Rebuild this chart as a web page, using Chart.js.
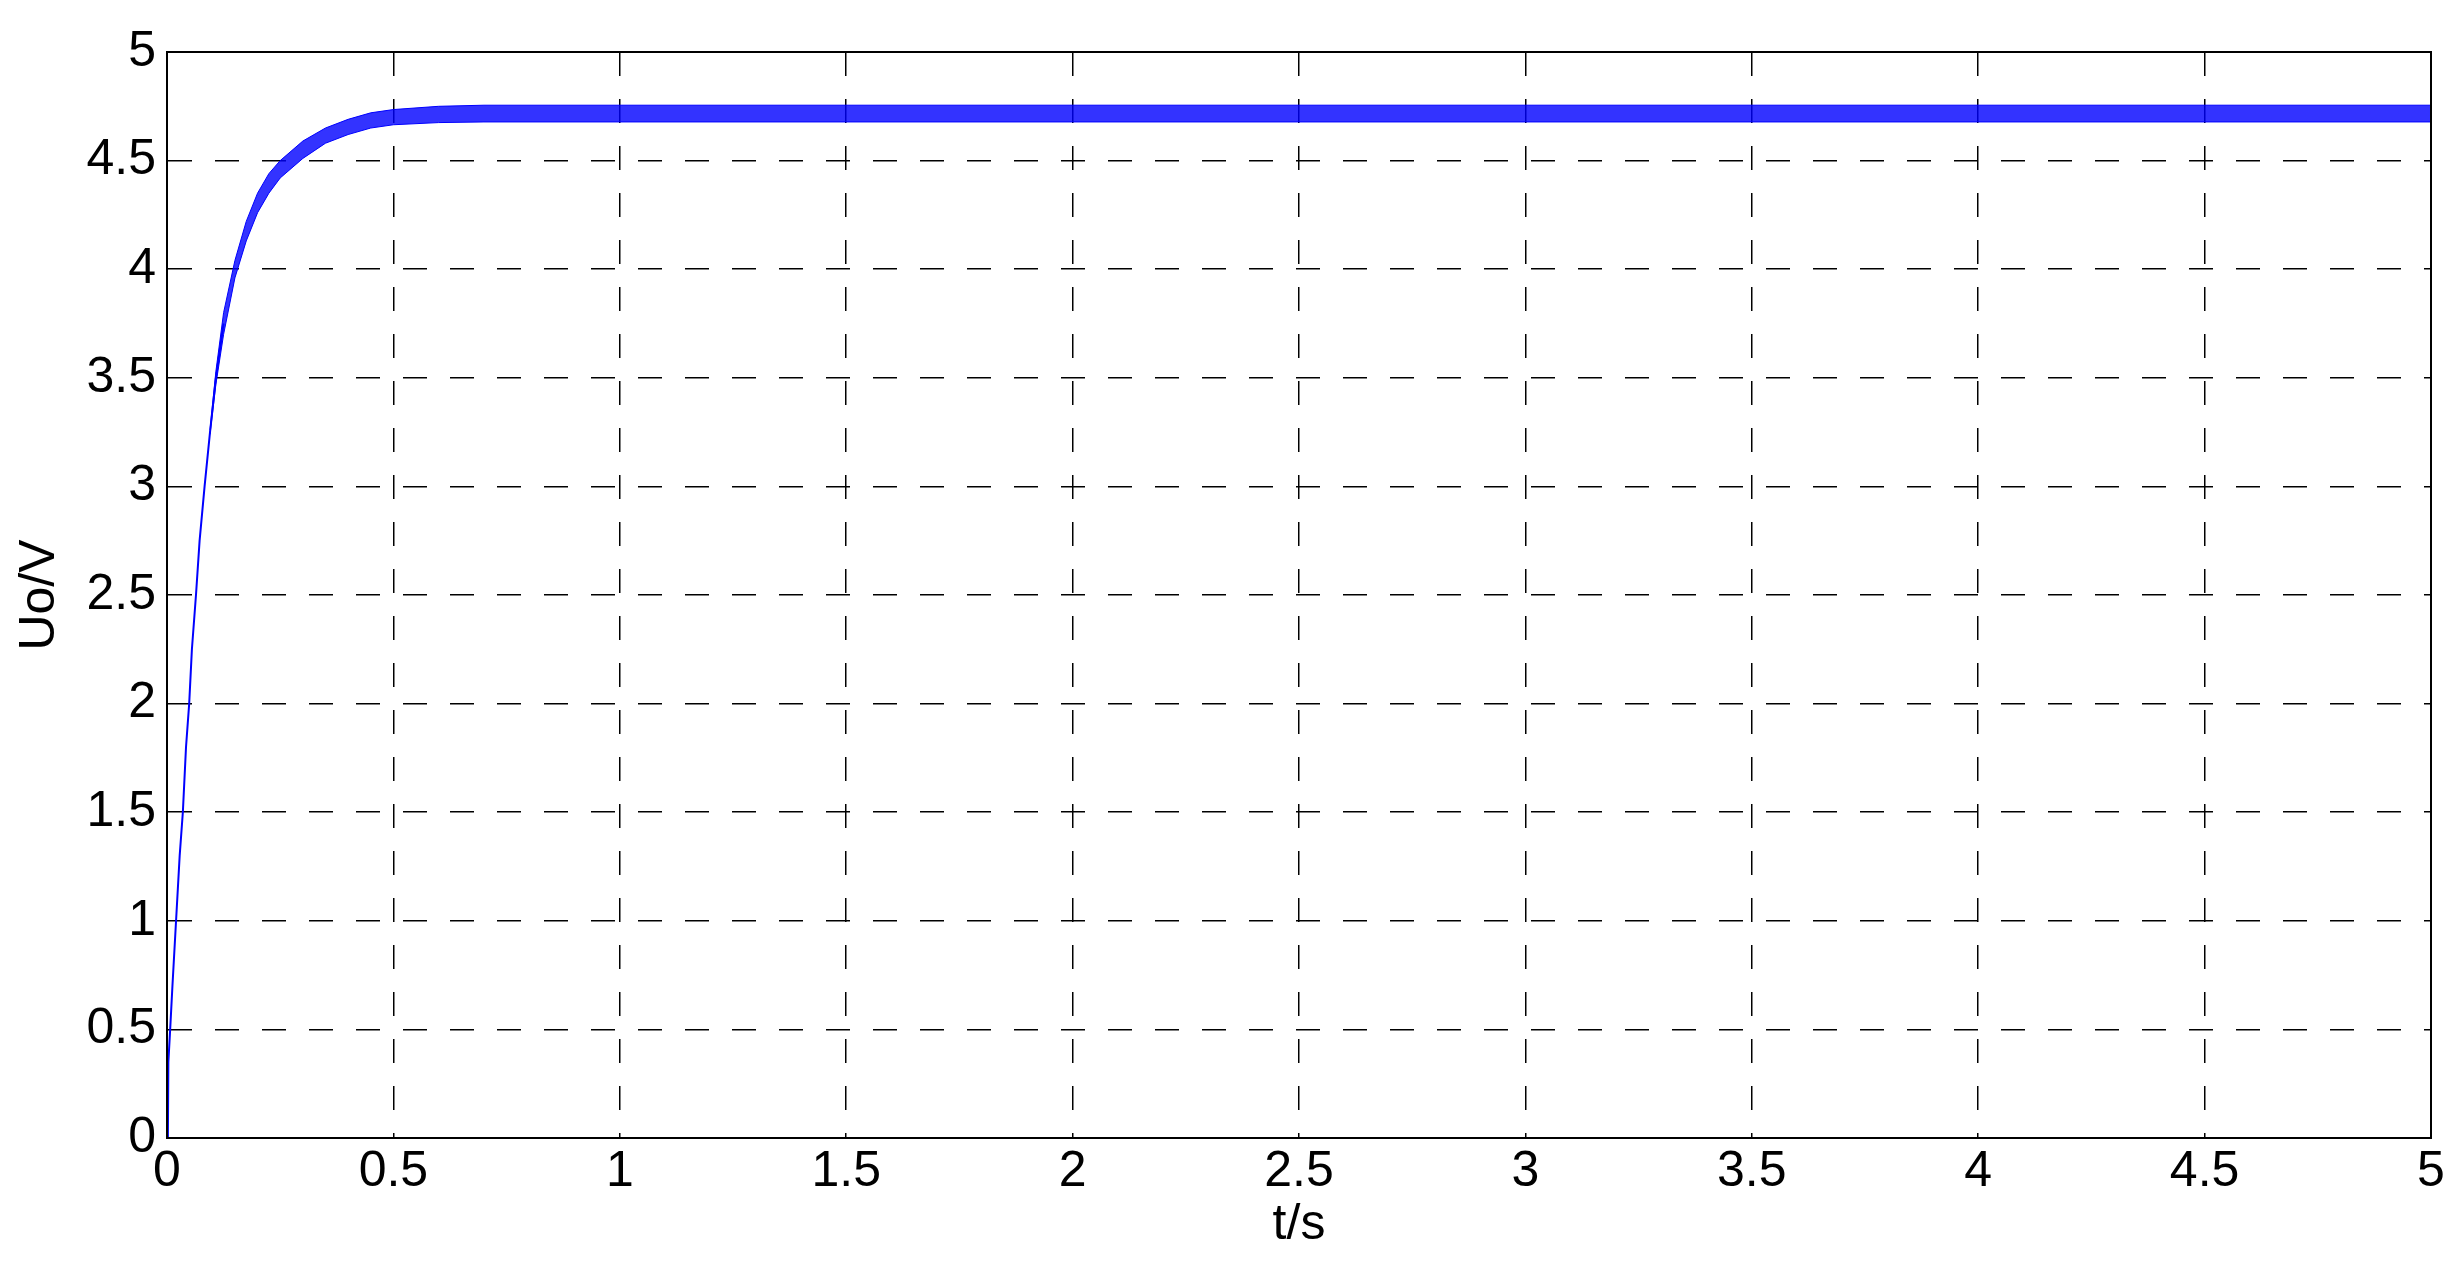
<!DOCTYPE html>
<html>
<head>
<meta charset="utf-8">
<script src="https://cdn.jsdelivr.net/npm/chart.js@4/dist/chart.umd.min.js"></script>
<style>
  html, body { margin: 0; padding: 0; background: #fff; }
  #wrap { width: 2463px; height: 1264px; }
</style>
</head>
<body>
<div id="wrap"><canvas id="myChart" width="2463" height="1264"></canvas></div>
<script>
// tiempo y tension de la subida (lectura de la figura)
const riseTime = [0, 0.002, 0.003, 0.007, 0.012, 0.02, 0.028, 0.035, 0.042, 0.049, 0.055, 0.064, 0.072, 0.083, 0.095, 0.108, 0.125];
const riseVolt = [0, 0.02, 0.35, 0.5, 0.7, 1.0, 1.3, 1.5, 1.8, 2.0, 2.25, 2.5, 2.75, 3.0, 3.25, 3.5, 3.75];

// banda de rizado (envolvente superior e inferior)
const bandTime  = [0.095, 0.108, 0.125, 0.15, 0.175, 0.2, 0.225, 0.25, 0.3, 0.35, 0.4, 0.45, 0.5, 0.6, 0.7, 1.0, 5.0];
const bandUpper = [3.26, 3.53, 3.80, 4.04, 4.22, 4.35, 4.44, 4.50, 4.59, 4.65, 4.69, 4.72, 4.735, 4.75, 4.755, 4.755, 4.755];
const bandLower = [3.24, 3.47, 3.70, 3.96, 4.13, 4.26, 4.35, 4.42, 4.51, 4.58, 4.62, 4.65, 4.665, 4.675, 4.678, 4.678, 4.678];

const xTicks = [0, 0.5, 1, 1.5, 2, 2.5, 3, 3.5, 4, 4.5, 5];
const yTicks = [0, 0.5, 1, 1.5, 2, 2.5, 3, 3.5, 4, 4.5, 5];

const toPoints = (xs, ys) => xs.map((x, i) => ({ x: x, y: ys[i] }));
const font = { family: "'Liberation Sans', Arial, sans-serif", size: 50 };
const fmt = (v) => String(v);

// marco completo alrededor del area del grafico
const boxPlugin = {
  id: "box",
  beforeDraw(chart) {
    const ctx = chart.ctx;
    ctx.save();
    ctx.fillStyle = "#fff";
    ctx.fillRect(0, 0, chart.width, chart.height);
    ctx.restore();
  },
  afterDraw(chart) {
    const a = chart.chartArea;
    const ctx = chart.ctx;
    ctx.save();
    ctx.strokeStyle = "#000";
    ctx.lineWidth = 2;
    ctx.setLineDash([]);
    ctx.strokeRect(a.left, a.top, a.right - a.left, a.bottom - a.top);
    ctx.restore();
  }
};

const ctx = document.getElementById("myChart").getContext("2d");
new Chart(ctx, {
  type: "scatter",
  data: {
    datasets: [
      {
        label: "subida",
        data: toPoints(riseTime, riseVolt),
        showLine: true,
        borderColor: "#0000ff",
        borderWidth: 2,
        pointRadius: 0,
        fill: false,
      },
      {
        label: "superior",
        data: toPoints(bandTime, bandUpper),
        showLine: true,
        borderColor: "#0000ff",
        borderWidth: 1,
        pointRadius: 0,
        fill: false,
      },
      {
        label: "inferior",
        data: toPoints(bandTime, bandLower),
        showLine: true,
        borderColor: "#0000ff",
        borderWidth: 1,
        pointRadius: 0,
        backgroundColor: "rgba(0,0,255,0.8)",
        fill: "-1",
      },
    ],
  },
  options: {
    responsive: false,
    animation: false,
    devicePixelRatio: 1,
    layout: { padding: { left: 0, right: 32, top: 52, bottom: 0 } },
    plugins: {
      legend: { display: false },
      tooltip: { enabled: false },
    },
    scales: {
      x: {
        type: "linear",
        min: 0,
        max: 5,
        afterFit: (s) => { s.height = 126; },
        afterBuildTicks: (s) => { s.ticks = xTicks.map((v) => ({ value: v })); },
        ticks: { color: "#000", font: font, padding: 4, maxRotation: 0, callback: fmt },
        grid: { color: "#000", lineWidth: 1.5, drawTicks: false },
        border: { display: true, color: "#000", width: 2, dash: [24, 23] },
        title: { display: true, text: "t/s", color: "#000", font: font, padding: { top: 0, bottom: 9 } },
      },
      y: {
        type: "linear",
        min: 0,
        max: 5,
        afterFit: (s) => { s.width = 167; },
        afterBuildTicks: (s) => { s.ticks = yTicks.map((v) => ({ value: v })); },
        ticks: { color: "#000", font: font, padding: 11, callback: fmt },
        grid: { color: "#000", lineWidth: 1.5, drawTicks: false },
        border: { display: true, color: "#000", width: 2, dash: [24, 23] },
        title: { display: true, text: "Uo/V", color: "#000", font: font, padding: { top: 10, bottom: 0 } },
      },
    },
  },
  plugins: [boxPlugin],
});
</script>
</body>
</html>
